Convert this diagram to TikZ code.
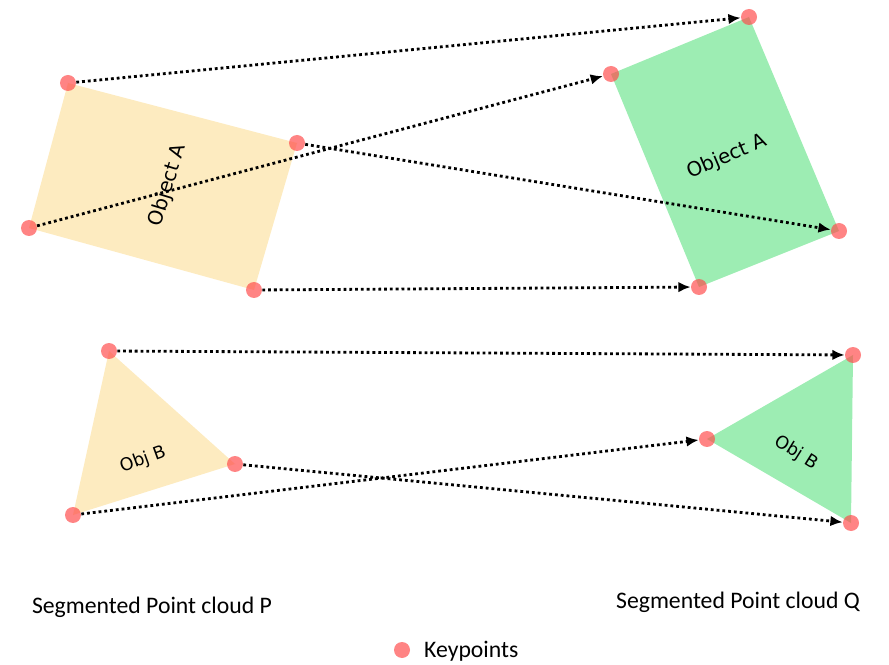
\documentclass[tikz,border=0pt]{standalone}
\usepackage{fontspec}
\setmainfont{Carlito}
\newfontfamily\objfont{DejaVu Sans}
\usetikzlibrary{arrows.meta}

\definecolor{objyellow}{HTML}{FDEBC0}
\definecolor{objgreen}{HTML}{9DEDB3}
\definecolor{kpred}{HTML}{FF4A4A}

\tikzset{
  kp/.style={circle, fill=kpred, fill opacity=0.68, inner sep=0pt, minimum size=0.32cm},
  match/.style={-{Latex[length=7pt,width=6pt]}, line width=1.6pt, dash pattern=on 1.6pt off 1.7pt},
  objlabel/.style={font=\objfont\fontsize{11.3}{13}\selectfont},
  objlabelsmall/.style={font=\objfont\fontsize{10}{12}\selectfont},
  cloudlabel/.style={font=\fontsize{13.5}{16}\selectfont}
}

\begin{document}
\begin{tikzpicture}[x=0.02cm, y=-0.02cm]
  \useasboundingbox (0,0) rectangle (889,665);

  \coordinate (a1) at (68,83);
  \coordinate (a2) at (297,143);
  \coordinate (a3) at (254,290);
  \coordinate (a4) at (29,228);
  \coordinate (c1) at (611,74);
  \coordinate (c2) at (749,17);
  \coordinate (c3) at (839,231);
  \coordinate (c4) at (699,287);
  \coordinate (b1) at (109,351);
  \coordinate (b2) at (235,464);
  \coordinate (b3) at (73,515);
  \coordinate (d1) at (853,355);
  \coordinate (d2) at (707,439);
  \coordinate (d3) at (851,523);

  \fill [objyellow] (a1) -- (a2) -- (a3) -- (a4) -- cycle;
  \fill [objgreen] (c1) -- (c2) -- (c3) -- (c4) -- cycle;
  \fill [objyellow] (b1) -- (b2) -- (b3) -- cycle;
  \fill [objgreen] (d1) -- (d2) -- (d3) -- cycle;

  \node [objlabel, rotate=73] (objAp) at (168,185) {Object A};
  \node [objlabel, rotate=23] (objAq) at (727,157) {Object A};
  \node [objlabelsmall, rotate=20] (objBp) at (143,460) {Obj B};
  \node [objlabelsmall, rotate=-32] (objBq) at (796,453) {Obj B};

  \foreach \p in {a1,a2,a3,a4,c1,c2,c3,c4,b1,b2,b3,d1,d2,d3}
    \node [kp] (k\p) at (\p) {};

  \draw [match] (ka1) -- (kc2);
  \draw [match] (ka4) -- (kc1);
  \draw [match] (ka2) -- (kc3);
  \draw [match] (ka3) -- (kc4);
  \draw [match] (kb1) -- (kd1);
  \draw [match] (kb3) -- (kd2);
  \draw [match] (kb2) -- (kd3);

  \node [cloudlabel] (cloudP) at (152,607) {Segmented Point cloud P};
  \node [cloudlabel] (cloudQ) at (738,602) {Segmented Point cloud Q};
  \node [kp] (legdot) at (402,650) {};
  \node [cloudlabel, anchor=west] (legtext) at (418,651) {Keypoints};
\end{tikzpicture}
\end{document}
